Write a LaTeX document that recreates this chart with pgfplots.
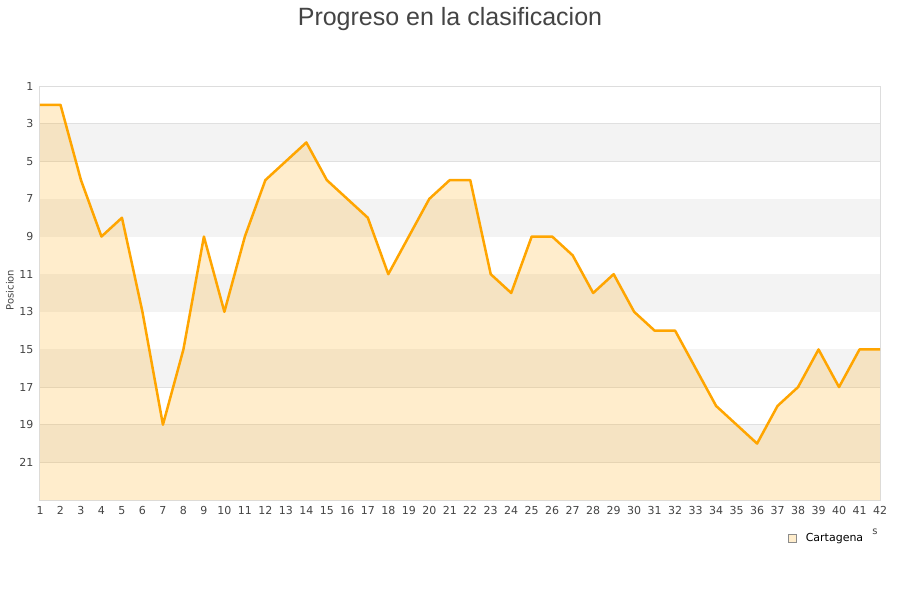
\documentclass[border=0pt]{standalone}
\usepackage{pgfplots}
\pgfplotsset{compat=1.18}
\usepackage{fontspec}
\setmainfont{DejaVu Sans}
\newfontfamily\titlefont{Liberation Sans}
\definecolor{lineor}{HTML}{FFA500}
\definecolor{band}{HTML}{F3F3F3}
\definecolor{gridc}{HTML}{E0E0E0}
\definecolor{bordc}{HTML}{DDDDDD}
\definecolor{txt}{HTML}{444444}

\pgfplotstableread{
x y
1 2
2 2
3 6
4 9
5 8
6 13
7 19
8 15
9 9
10 13
11 9
12 6
13 5
14 4
15 6
16 7
17 8
18 11
19 9
20 7
21 6
22 6
23 11
24 12
25 9
26 9
27 10
28 12
29 11
30 13
31 14
32 14
33 16
34 18
35 19
36 20
37 18
38 17
39 15
40 17
41 15
42 15
}\cartagena

\begin{document}
\begin{tikzpicture}
\useasboundingbox (-40pt,-100pt) rectangle (860pt,500pt);
\begin{axis}[
    at={(0pt,0pt)}, anchor=south west,
    scale only axis,
    width=840pt, height=414pt,
    xmin=1, xmax=42,
    ymin=1, ymax=23,
    y dir=reverse,
    xtick={1,...,42},
    ytick={1,3,...,21},
    major tick length=0pt,
    ymajorgrids=true,
    grid style={gridc, line width=0.8pt},
    axis line style={bordc, line width=1pt},
    tick label style={txt, font=\fontsize{11}{13}\selectfont},
    /pgf/number format/assume math mode=true,
    xticklabel style={yshift=-3pt},
    yticklabel style={xshift=-3pt},
    legend style={at={(0.887,-0.093)}, anchor=west, draw=none, fill=none,
        font=\fontsize{11}{13}\selectfont, text=black},
    legend cell align=left,
]
\fill[band] (axis cs:1,3) rectangle (axis cs:42,5);
\fill[band] (axis cs:1,7) rectangle (axis cs:42,9);
\fill[band] (axis cs:1,11) rectangle (axis cs:42,13);
\fill[band] (axis cs:1,15) rectangle (axis cs:42,17);
\fill[band] (axis cs:1,19) rectangle (axis cs:42,21);
\addplot[fill=lineor, fill opacity=0.2, draw=none, forget plot]
    table[x=x, y=y] {\cartagena} -- (axis cs:42,23) -- (axis cs:1,23) -- cycle;
\addplot[lineor, line width=2.5pt, line join=round, forget plot]
    table[x=x, y=y] {\cartagena};
\addlegendimage{legend image code/.code={
    \draw[fill=lineor!20, draw=gray!90, line width=0.6pt] (4pt,-4pt) rectangle (12pt,4pt);
    \path (19pt,0pt);}}
\addlegendentry{Cartagena}
\end{axis}
\node[txt, font=\titlefont\fontsize{25}{28}\selectfont] at (410pt,481pt) {Progreso en la clasificacion};
\node[txt, rotate=90, font=\fontsize{10}{12}\selectfont] at (-30pt,210pt) {Posicion};
\node[txt, font=\fontsize{10}{12}\selectfont] at (835pt,-32pt) {s};
\end{tikzpicture}
\end{document}
